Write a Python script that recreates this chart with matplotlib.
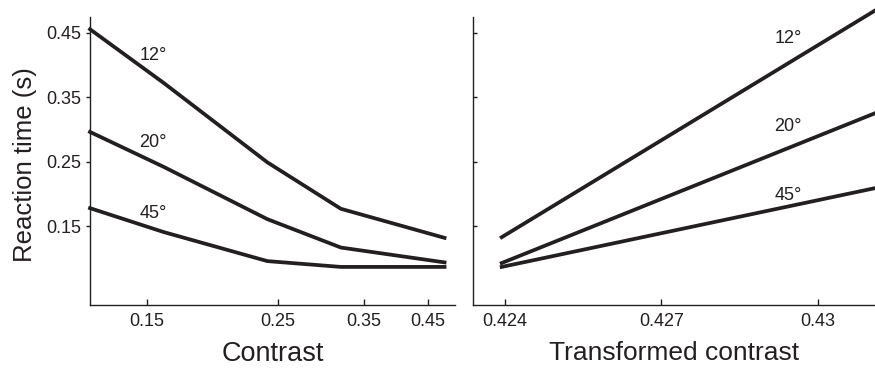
import numpy as np
import matplotlib
matplotlib.use("Agg")
from matplotlib import pyplot as plt

plt.rcParams["font.family"] = ["Liberation Sans", "DejaVu Sans"]

INK = "#231f20"

# left panel: reaction time vs contrast (log x)
contrast = [0.12, 0.16, 0.24, 0.32, 0.48]
rt_12 = [0.455, 0.372, 0.249, 0.177, 0.132]
rt_20 = [0.296, 0.242, 0.161, 0.117, 0.094]
rt_45 = [0.178, 0.141, 0.096, 0.087, 0.087]

# right panel: reaction time vs transformed contrast (straight lines)
tcontrast = [0.42394, 0.4311]
trt_12 = [0.133, 0.484]
trt_20 = [0.093, 0.325]
trt_45 = [0.087, 0.209]

eccentricities = ["12°", "20°", "45°"]
rt_ticks = [0.15, 0.25, 0.35, 0.45]
contrast_ticks = [0.15, 0.25, 0.35, 0.45]
tcontrast_ticks = [0.424, 0.427, 0.43]
tcontrast_ticklabels = ["0.424", "0.427", "0.43"]


def style_axes(ax, ytick_dir):
    for side in ["top", "right"]:
        ax.spines[side].set_visible(False)
    for side in ["left", "bottom"]:
        ax.spines[side].set_color(INK)
        ax.spines[side].set_linewidth(1.0)
    ax.tick_params(axis="x", direction="in", length=4, width=1.0, color=INK,
                   labelsize=13, pad=6, labelcolor=INK)
    ax.tick_params(axis="y", direction=ytick_dir, length=3, width=1.0, color=INK,
                   labelsize=13, pad=3, labelcolor=INK)


fig = plt.figure(figsize=(8.75, 3.69), dpi=100)
ax1 = fig.add_axes([0.1029, 0.1734, 0.4171, 0.7805])
ax2 = fig.add_axes([0.5406, 0.1734, 0.4594, 0.7805])

# left
for rt in [rt_12, rt_20, rt_45]:
    ax1.plot(contrast, rt, color=INK, lw=2.7, solid_joinstyle="miter", clip_on=False)
ax1.set_xscale("log")
ax1.set_xlim(0.12, 0.5)
ax1.set_ylim(0.028, 0.474)
ax1.set_xticks(contrast_ticks)
ax1.set_xticklabels([f"{t:.2f}" for t in contrast_ticks])
ax1.xaxis.set_minor_locator(plt.NullLocator())
ax1.set_yticks(rt_ticks)
ax1.set_yticklabels([f"{t:.2f}" for t in rt_ticks])
style_axes(ax1, "out")
ax1.set_xlabel("Contrast", fontsize=19.5, color=INK, labelpad=8)
ax1.set_ylabel("Reaction time (s)", fontsize=18.5, color=INK)
ax1.yaxis.set_label_coords(-0.145, 0.486)

left_label_pos = [(0.1535, 0.415), (0.1535, 0.279), (0.1535, 0.169)]
for lab, (x, y) in zip(eccentricities, left_label_pos):
    ax1.text(x, y, lab, fontsize=13, color=INK, ha="center", va="center")

# right
for rt in [trt_12, trt_20, trt_45]:
    ax2.plot(tcontrast, rt, color=INK, lw=2.7, clip_on=False)
ax2.set_xlim(0.42339, 0.4311)
ax2.set_ylim(0.028, 0.474)
ax2.set_xticks(tcontrast_ticks)
ax2.set_xticklabels(tcontrast_ticklabels)
ax2.set_yticks(rt_ticks)
ax2.set_yticklabels([])
style_axes(ax2, "in")
ax2.set_xlabel("Transformed contrast", fontsize=19, color=INK, labelpad=8)

right_label_pos = [(0.42943, 0.440), (0.42943, 0.305), (0.42943, 0.197)]
for lab, (x, y) in zip(eccentricities, right_label_pos):
    ax2.text(x, y, lab, fontsize=13, color=INK, ha="center", va="center")

fig.savefig("out.png", dpi=100)
